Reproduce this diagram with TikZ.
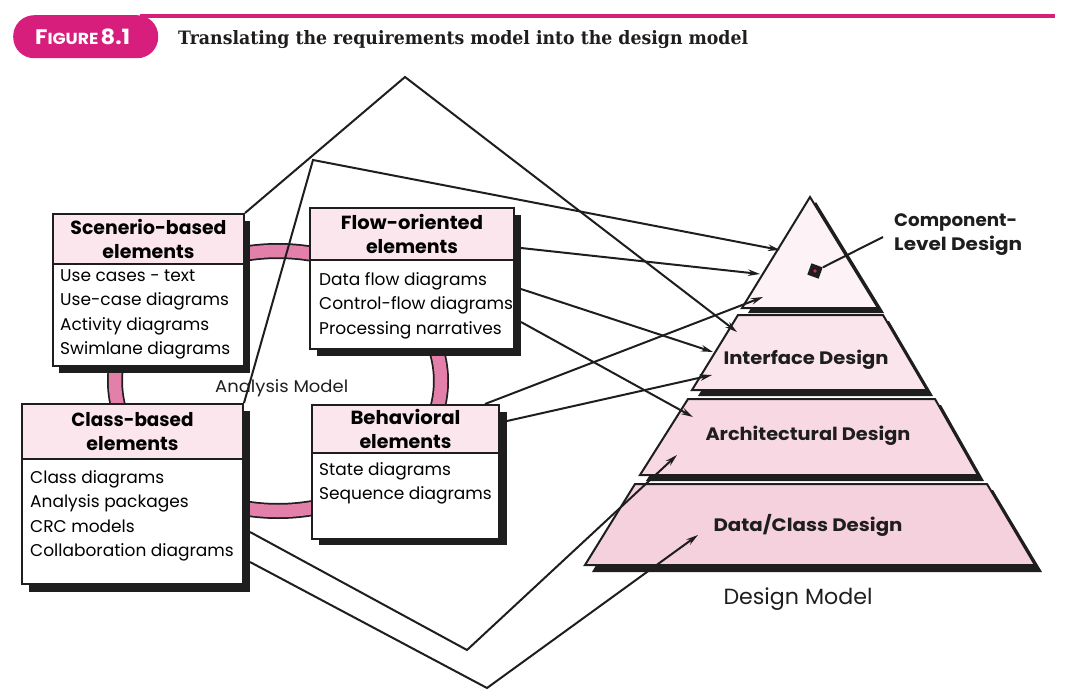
\documentclass[tikz,border=0pt]{standalone}
\usepackage{fontspec}
\usepackage{graphicx}
\setmainfont{Poppins}
\newfontfamily\slab{DejaVu Serif}
\usetikzlibrary{arrows.meta}
\definecolor{mag}{RGB}{215,30,125}
\definecolor{ringc}{RGB}{226,128,170}
\definecolor{hdrc}{RGB}{252,230,237}
\definecolor{layA}{RGB}{253,242,245}
\definecolor{layB}{RGB}{251,229,236}
\definecolor{layC}{RGB}{248,217,227}
\definecolor{layD}{RGB}{245,208,221}
\definecolor{ink}{RGB}{30,30,30}
\newcommand\fitw[2]{\resizebox{#1}{\height}{#2}}
\begin{document}
\begin{tikzpicture}[x=1pt,y=-1pt,
  hdr/.style={draw=ink, line width=2pt, fill=hdrc, inner sep=0pt, anchor=north west, align=center,
    font=\bfseries\fontsize{19}{23.5}\selectfont},
  bodybox/.style={draw=ink, line width=2pt, fill=white, inner sep=0pt, anchor=north west},
  bodytxt/.style={anchor=north west, align=left, inner sep=0pt, font=\fontsize{17}{24.5}\selectfont},
  shad/.style={fill=ink},
  conn/.style={line width=2pt, draw=ink},
  arr/.style={conn, -{Stealth[length=12pt,width=6.5pt]}},
  layer/.style={draw=ink, line width=2pt},
  lbl/.style={inner sep=0pt, font=\bfseries\fontsize{18}{22}\selectfont, text=ink}]

\useasboundingbox (0,0) rectangle (1066,698);

% ---------- title bar ----------
\fill[mag] (140,14) rectangle (1055,18);
\node[fill=mag, rounded corners=21pt, minimum width=145pt, minimum height=43pt, anchor=north west, inner sep=0pt] (badge) at (13,15) {};
\node[anchor=base west, inner sep=0pt, text=white, font=\bfseries] (figlbl) at (35,45)
  {\fitw{95pt}{{\fontsize{21}{21}\selectfont F}{\fontsize{16}{16}\selectfont IGURE} {\fontsize{21}{21}\selectfont 8.1}}};
\node[anchor=base west, inner sep=0pt, text=ink, font=\slab\bfseries\fontsize{19}{19}\selectfont] (title) at (178,45)
  {\resizebox{570pt}{14pt}{Translating the requirements model into the design model}};

% ---------- analysis ring ----------
\draw[ink, line width=16pt] (278,381) ellipse [x radius=163, y radius=130];
\draw[ringc, line width=12.5pt] (278,381) ellipse [x radius=163, y radius=130];

% ---------- scenario box ----------
\fill[shad] (59,221) rectangle (250,373);
\node[hdr, minimum width=191pt, minimum height=50pt] (scenH) at (52,213)
  {\fitw{156pt}{Scenerio-based}\\\fitw{92pt}{elements}};
\node[bodybox, minimum width=191pt, minimum height=102pt] (scenB) at (52,263) {};
\node[bodytxt] (scenT) at (60,269) {Use cases - text\\Use-case diagrams\\Activity diagrams\\Swimlane diagrams};

% ---------- flow box ----------
\fill[shad] (317,215) rectangle (521,356);
\node[hdr, minimum width=204pt, minimum height=52pt] (flowH) at (309,207)
  {\fitw{142pt}{Flow-oriented}\\\fitw{92pt}{elements}};
\node[bodybox, minimum width=204pt, minimum height=89pt] (flowB) at (309,259) {};
\node[bodytxt] (flowT) at (319,272) {Data flow diagrams\\Control-flow diagrams\\Processing narratives};

% ---------- class box ----------
\fill[shad] (29,411) rectangle (250,592);
\node[hdr, minimum width=221pt, minimum height=55pt] (classH) at (21,403)
  {\fitw{122pt}{Class-based}\\\fitw{92pt}{elements}};
\node[bodybox, minimum width=221pt, minimum height=125pt] (classB) at (21,458) {};
\node[bodytxt] (classT) at (30,470) {Class diagrams\\Analysis packages\\CRC models\\Collaboration diagrams};

% ---------- behavioral box ----------
\fill[shad] (319,412) rectangle (507,545);
\node[hdr, minimum width=187pt, minimum height=48pt] (behH) at (311,404)
  {\fitw{110pt}{Behavioral}\\\fitw{92pt}{elements}};
\node[bodybox, minimum width=187pt, minimum height=86pt] (behB) at (311,452) {};
\node[bodytxt] (behT) at (319,462) {State diagrams\\Sequence diagrams};

\node[anchor=base west, inner sep=0pt, font=\fontsize{17}{17}\selectfont, text=ink] (amodel) at (215,392) {\fitw{133pt}{Analysis Model}};

% ---------- pyramid ----------
\fill[shad] (816,202) -- (884,313) -- (748,313) -- cycle;
\draw[layer, fill=layA] (810,197) -- (878,308) -- (742,308) -- cycle;
\fill[shad] (744,321) -- (889,321) -- (933,396) -- (698,396) -- cycle;
\draw[layer, fill=layB] (738,315) -- (883,315) -- (927,390) -- (692,390) -- cycle;
\fill[shad] (694,405) -- (941,405) -- (984,481) -- (646,481) -- cycle;
\draw[layer, fill=layC] (688,399) -- (935,399) -- (978,475) -- (640,475) -- cycle;
\fill[shad] (641,490) -- (993,490) -- (1042,572) -- (592,572) -- cycle;
\draw[layer, fill=layD] (635,484) -- (987,484) -- (1035,565) -- (585,565) -- cycle;

\node[lbl] (intL) at (806,360) {\fitw{165pt}{Interface Design}};
\node[lbl] (archL) at (808,436) {\fitw{205pt}{Architectural Design}};
\node[lbl] (dataL) at (808,525) {\fitw{189pt}{Data/Class Design}};
\node[lbl, anchor=north west, align=left, font=\bfseries\fontsize{18}{24}\selectfont] (compL) at (894,214)
  {\fitw{123pt}{Component-}\\\fitw{128pt}{Level Design}};
\node[anchor=base, inner sep=0pt, font=\fontsize{22}{22}\selectfont, text=ink] (dmodel) at (798,604) {\fitw{149pt}{Design Model}};

\node[fill=ink, minimum size=12pt, inner sep=0pt, rotate=-20] (sq) at (815,271) {};
\fill[mag] (sq.center) circle (1.8pt);
\coordinate (compTail) at (883,237);
\draw[conn] (compTail) -- (sq.north east);

% ---------- connectors ----------
\coordinate (apexA) at (405,77);
\coordinate (apexB) at (313,160);
\coordinate (tInt1) at (737,332);
\coordinate (tComp1) at (780,250);
\coordinate (f1) at (521,248);
\coordinate (tComp2) at (760,274);
\coordinate (f2) at (521,289);
\coordinate (tInt2) at (713,352);
\coordinate (f3) at (521,322);
\coordinate (tArch1) at (693,417);
\coordinate (b1) at (485,404);
\coordinate (tComp3) at (763,297);
\coordinate (b2) at (507,421);
\coordinate (tInt3) at (712,375);
\coordinate (c1) at (250,532);
\coordinate (v1) at (467,650);
\coordinate (tArch2) at (677,455);
\coordinate (c2) at (250,562);
\coordinate (v2) at (487,688);
\coordinate (tData) at (698,535);

\draw[arr] (scenH.north east) -- (apexA) -- (tInt1);
\draw[arr] (classH.north east) -- (apexB) -- (tComp1);
\draw[arr] (f1) -- (tComp2);
\draw[arr] (f2) -- (tInt2);
\draw[arr] (f3) -- (tArch1);
\draw[arr] (b1) -- (tComp3);
\draw[arr] (b2) -- (tInt3);
\draw[arr] (c1) -- (v1) -- (tArch2);
\draw[arr] (c2) -- (v2) -- (tData);
\end{tikzpicture}
\end{document}
